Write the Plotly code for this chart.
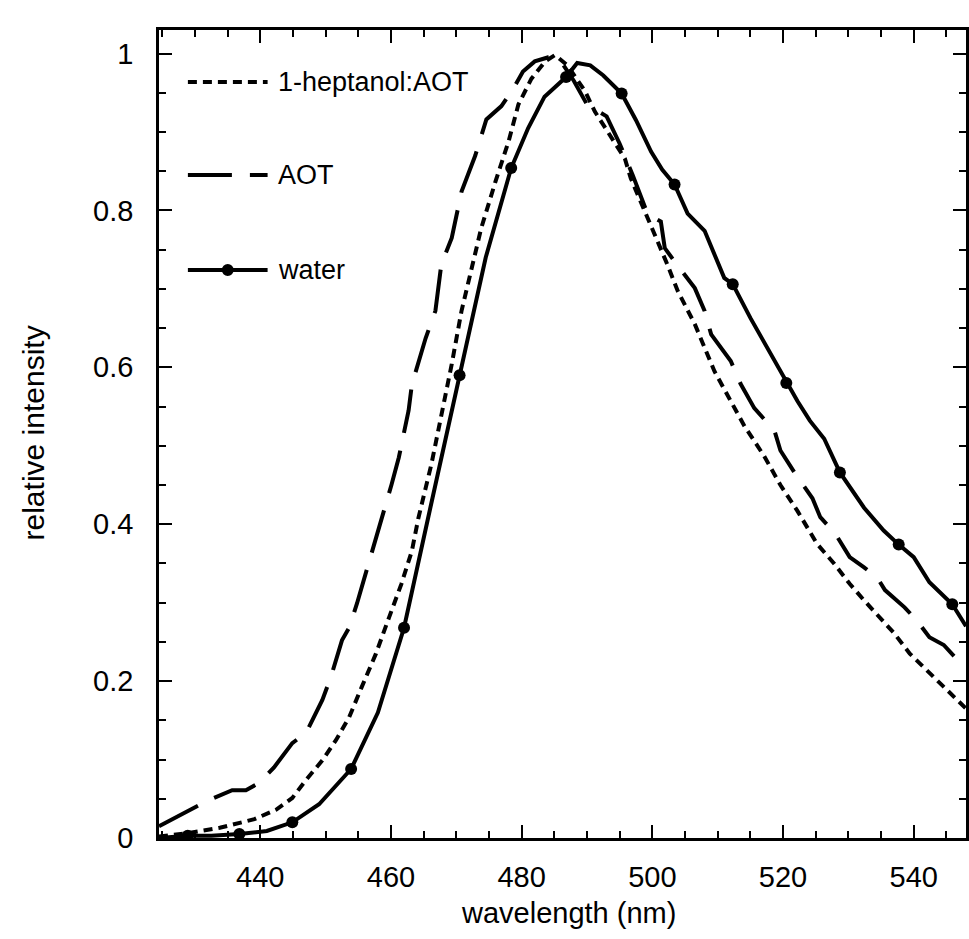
import plotly.graph_objects as go

# ---------------- data ----------------
hept_nm = [424.5, 428.7, 433.8, 439.1, 442.4, 444.9, 447.0, 449.5, 451.6, 453.6, 455.5, 457.7,
           459.7, 461.6, 463.2, 464.2, 466.2, 467.7, 469.3, 470.8, 472.3, 473.8, 476.0, 478.0,
           479.5, 481.5, 483.6, 485.1, 487.0, 489.7, 491.2, 493.5, 495.8, 496.7, 498.2, 500.4,
           502.3, 503.9, 506.5, 508.0, 509.5, 512.0, 514.1, 517.1, 519.6, 522.2, 525.2, 527.8,
           530.2, 532.4, 534.8, 537.0, 539.4, 542.0, 544.6, 547.0, 548.0]
hept_val = [0.002, 0.006, 0.013, 0.024, 0.036, 0.051, 0.074, 0.099, 0.125, 0.154, 0.192, 0.235,
            0.281, 0.324, 0.366, 0.408, 0.477, 0.536, 0.604, 0.672, 0.726, 0.777, 0.837, 0.888,
            0.935, 0.968, 0.990, 0.998, 0.985, 0.952, 0.926, 0.895, 0.866, 0.841, 0.812, 0.770,
            0.731, 0.697, 0.655, 0.625, 0.595, 0.557, 0.525, 0.487, 0.450, 0.417, 0.375, 0.350,
            0.324, 0.303, 0.281, 0.261, 0.235, 0.214, 0.192, 0.173, 0.165]

aot_nm = [424.5, 431.8, 435.7, 437.8, 439.8, 442.1, 444.9, 447.0, 449.5, 450.8, 452.5, 453.6,
          454.8, 455.5, 457.1, 458.1, 460.1, 461.2, 462.7, 463.2, 465.3, 466.8, 467.7, 469.3,
          470.8, 472.9, 474.6, 476.9, 478.7, 480.2, 482.0, 484.0, 486.0, 488.0, 490.0, 493.0,
          495.0, 497.0, 499.3, 501.3, 501.9, 503.4, 506.5, 508.0, 509.0, 512.0, 513.5, 515.6,
          518.7, 519.6, 521.9, 524.5, 525.7, 528.0, 530.2, 532.4, 534.4, 535.6, 538.6, 540.5,
          542.4, 544.6, 547.6, 548.0]
aot_val = [0.015, 0.047, 0.061, 0.061, 0.070, 0.090, 0.121, 0.134, 0.176, 0.205, 0.252, 0.268,
           0.299, 0.319, 0.362, 0.392, 0.451, 0.485, 0.545, 0.578, 0.637, 0.672, 0.731, 0.765,
           0.824, 0.870, 0.916, 0.933, 0.955, 0.977, 0.990, 0.995, 0.990, 0.965, 0.935, 0.920,
           0.885, 0.845, 0.795, 0.786, 0.752, 0.735, 0.701, 0.672, 0.642, 0.608, 0.579, 0.548,
           0.519, 0.494, 0.464, 0.433, 0.409, 0.388, 0.358, 0.345, 0.332, 0.316, 0.294, 0.277,
           0.256, 0.246, 0.218, 0.215]

water_nm = [424.5, 428.9, 432.5, 436.8, 441.0, 444.9, 449.0, 453.9, 458.0, 462.0, 466.0, 470.5,
            474.5, 478.4, 481.0, 483.5, 486.8, 488.5, 490.5, 492.5, 495.3, 497.5, 499.8, 501.5,
            503.4, 505.4, 508.0, 511.0, 512.3, 515.0, 518.7, 520.5, 522.2, 524.1, 526.3, 528.7,
            532.4, 535.4, 537.7, 540.0, 542.4, 545.9, 547.6, 548.0]
water_val = [0.000, 0.003, 0.003, 0.005, 0.009, 0.020, 0.043, 0.088, 0.160, 0.268, 0.420, 0.590,
             0.740, 0.854, 0.905, 0.945, 0.970, 0.988, 0.985, 0.972, 0.949, 0.915, 0.875, 0.852,
             0.833, 0.796, 0.774, 0.714, 0.706, 0.663, 0.608, 0.580, 0.557, 0.532, 0.509, 0.466,
             0.421, 0.392, 0.374, 0.358, 0.326, 0.298, 0.277, 0.270]
water_marker_nm = [428.9, 436.8, 444.9, 453.9, 462.0, 470.5, 478.4, 486.8, 495.3, 503.4,
                   512.3, 520.5, 528.7, 537.7, 545.9]

x_ticks = [440, 460, 480, 500, 520, 540]
y_ticks = [0, 0.2, 0.4, 0.6, 0.8, 1.0]
y_ticktext = ["0", "0.2", "0.4", "0.6", "0.8", "1"]

names = ["1-heptanol:AOT", "AOT", "water"]
x_title = "wavelength (nm)"
y_title = "relative intensity"

# ---------------- figure ----------------
W, H = 969, 939
ML, MR, MT, MB = 159, 0, 30, 101
FONT = "Liberation Sans, Arial, sans-serif"
INK = "black"
HEPT_DASH = "9px,6px"
AOT_DASH = "44px,18px"
LW = 4

water_lookup = dict(zip(water_nm, water_val))
wm_val = [water_lookup[n] for n in water_marker_nm]

fig = go.Figure()
fig.add_trace(go.Scatter(x=hept_nm, y=hept_val, mode="lines", name=names[0],
                         line=dict(color=INK, width=LW, dash=HEPT_DASH), showlegend=False))
fig.add_trace(go.Scatter(x=aot_nm, y=aot_val, mode="lines", name=names[1],
                         line=dict(color=INK, width=LW, dash=AOT_DASH), showlegend=False))
fig.add_trace(go.Scatter(x=water_nm, y=water_val, mode="lines", name=names[2],
                         line=dict(color=INK, width=LW), showlegend=False))
fig.add_trace(go.Scatter(x=water_marker_nm, y=wm_val, mode="markers", name=names[2] + " markers",
                         marker=dict(color=INK, size=12, symbol="circle"), showlegend=False))

axis_common = dict(showline=True, linecolor=INK, linewidth=2.5, mirror="ticks",
                   ticks="inside", ticklen=13, tickwidth=2, tickcolor=INK,
                   showgrid=False, zeroline=False,
                   tickfont=dict(family=FONT, size=29, color=INK))

fig.update_xaxes(range=[424.5, 548.0], tickvals=x_ticks,
                 minor=dict(dtick=5, tick0=440, ticks="inside", ticklen=7, tickwidth=1.5, tickcolor=INK),
                 ticklabelstandoff=11, **axis_common)
fig.update_yaxes(range=[0, 1.03], tickvals=y_ticks, ticktext=y_ticktext,
                 minor=dict(dtick=0.05, tick0=0, ticks="inside", ticklen=7, tickwidth=1.5, tickcolor=INK),
                 ticklabelstandoff=17, **axis_common)

# ---- hand-drawn legend (paper coordinates) ----
pw, ph = W - ML - MR, H - MT - MB
def px2paper(px, py):
    return (px - ML) / pw, (H - MB - py) / ph

shapes = []
annotations = []
leg_rows = [82, 175, 270]
leg_x0, leg_x1, leg_tx = 188, 268, 276
dashes = [HEPT_DASH, AOT_DASH, "solid"]
for name, row, dash in zip(names, leg_rows, dashes):
    x0, y0 = px2paper(leg_x0, row)
    x1, _ = px2paper(leg_x1, row)
    shapes.append(dict(type="line", xref="paper", yref="paper", x0=x0, x1=x1, y0=y0, y1=y0,
                       line=dict(color=INK, width=LW, dash=dash)))
    tx, ty = px2paper(leg_tx, row)
    annotations.append(dict(text=name, xref="paper", yref="paper", x=tx, y=ty,
                            xanchor="left", yanchor="middle", showarrow=False,
                            font=dict(family=FONT, size=27, color=INK)))
# water legend marker
mx, my = px2paper(228, leg_rows[2])
r = 6
shapes.append(dict(type="circle", xref="paper", yref="paper",
                   x0=mx - r / pw, x1=mx + r / pw, y0=my - r / ph, y1=my + r / ph,
                   fillcolor=INK, line=dict(color=INK, width=0)))

# axis titles
tx, ty = px2paper(570, 913)
annotations.append(dict(text=x_title, xref="paper", yref="paper", x=tx, y=ty,
                        xanchor="center", yanchor="middle", showarrow=False,
                        font=dict(family=FONT, size=29, color=INK)))
tx, ty = px2paper(33, 433)
annotations.append(dict(text=y_title, xref="paper", yref="paper", x=tx, y=ty, textangle=-90,
                        xanchor="center", yanchor="middle", showarrow=False,
                        font=dict(family=FONT, size=30, color=INK)))

fig.update_layout(width=W, height=H, margin=dict(l=ML, r=MR, t=MT, b=MB, pad=0),
                  paper_bgcolor="white", plot_bgcolor="white",
                  shapes=shapes, annotations=annotations, showlegend=False)

fig.write_html("out.html")
